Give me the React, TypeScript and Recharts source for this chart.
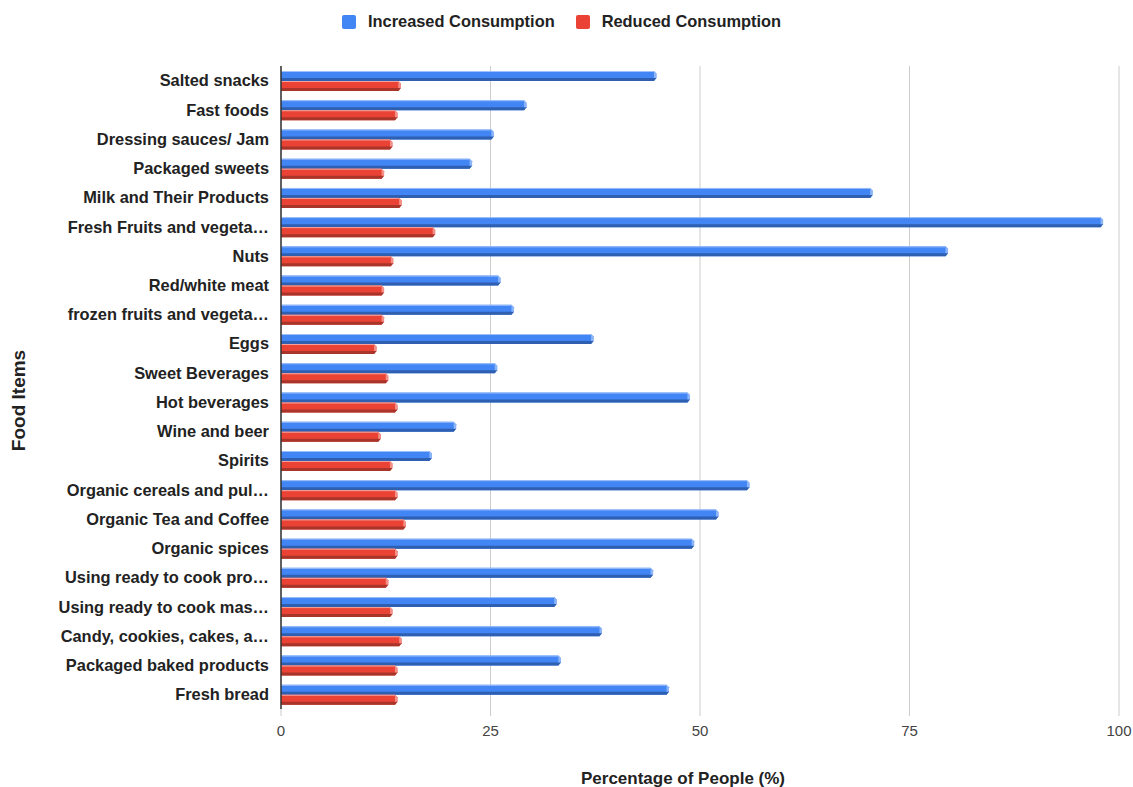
import React from "react";
import { BarChart, Bar, XAxis, YAxis, CartesianGrid, Label, ReferenceLine } from "recharts";

// Food item labels, top to bottom
const categories = [
  "Salted snacks",
  "Fast foods",
  "Dressing sauces/ Jam",
  "Packaged sweets",
  "Milk and Their Products",
  "Fresh Fruits and vegeta…",
  "Nuts",
  "Red/white meat",
  "frozen fruits and vegeta…",
  "Eggs",
  "Sweet Beverages",
  "Hot beverages",
  "Wine and beer",
  "Spirits",
  "Organic cereals and pul…",
  "Organic Tea and Coffee",
  "Organic spices",
  "Using ready to cook pro…",
  "Using ready to cook mas…",
  "Candy, cookies, cakes, a…",
  "Packaged baked products",
  "Fresh bread",
];

// Share of respondents (%) per food item
const increased = [
  44.8, 29.3, 25.4, 22.8, 70.6, 98.1, 79.6, 26.2, 27.8, 37.3, 25.8,
  48.8, 20.9, 18.0, 55.9, 52.2, 49.3, 44.4, 32.9, 38.3, 33.4, 46.3,
];
const reduced = [
  14.3, 13.9, 13.3, 12.3, 14.4, 18.4, 13.4, 12.3, 12.3, 11.4, 12.8,
  13.9, 11.9, 13.3, 13.9, 14.9, 13.9, 12.8, 13.3, 14.4, 13.9, 13.9,
];

const xTicks = [0, 25, 50, 75, 100];

const seriesInfo = [
  { key: "increased", name: "Increased Consumption", color: "#4285F4", dark: "#2f5fb0", light: "#9fc0f9" },
  { key: "reduced", name: "Reduced Consumption", color: "#EA4335", dark: "#a8342a", light: "#f5a59d" },
];

const data = categories.map((name, i) => ({
  name,
  increased: increased[i],
  reduced: reduced[i],
}));

const FONT = "'Liberation Sans', Arial, sans-serif";

// Bar with a bevelled, slightly three-dimensional look
function makeShape(color: string, dark: string, light: string) {
  return (props: any) => {
    const { x, y, width, height } = props;
    if (!width || width <= 0) return null;
    const depth = Math.min(3, height * 0.3);
    const slant = 2.5;
    const right = x + width;
    return (
      <g>
        <polygon
          points={`${x},${y} ${right - slant},${y} ${right},${y + slant} ${right},${y + height - depth} ${right - slant},${y + height} ${x},${y + height}`}
          fill={color}
        />
        <polygon
          points={`${x},${y + height - depth} ${right},${y + height - depth} ${right - slant},${y + height} ${x},${y + height}`}
          fill={dark}
        />
        <polygon
          points={`${right - slant},${y} ${right},${y + slant} ${right},${y + height - depth} ${right - slant},${y + height - depth}`}
          fill={light}
          opacity={0.8}
        />
        <line x1={x} y1={y + 0.5} x2={right - slant} y2={y + 0.5} stroke={light} strokeWidth={1} />
      </g>
    );
  };
}

function ChartLegend() {
  return (
    <div
      style={{
        position: "absolute",
        top: 12,
        left: 0,
        width: 1133,
        display: "flex",
        justifyContent: "center",
        alignItems: "center",
        fontFamily: FONT,
        fontWeight: "bold",
        fontSize: 16.4,
        color: "#222",
        gap: 21,
        paddingRight: 10,
        boxSizing: "border-box",
      }}
    >
      {seriesInfo.map((s) => (
        <div key={s.key} style={{ display: "flex", alignItems: "center" }}>
          <span
            style={{
              display: "inline-block",
              width: 14,
              height: 14,
              background: s.color,
              borderRadius: 2,
              marginRight: 12,
            }}
          />
          <span>{s.name}</span>
        </div>
      ))}
    </div>
  );
}

export default function App() {
  return (
    <div style={{ position: "absolute", left: 0, top: 0, width: 1133, height: 787, background: "#fff" }}>
      <BarChart
        width={1133}
        height={787}
        data={data}
        layout="vertical"
        margin={{ top: 66, right: 14, left: 0, bottom: 0 }}
        barSize={10}
        barGap={0}
      >
        <CartesianGrid horizontal={false} stroke="#cccccc" />
        <XAxis
          type="number"
          domain={[0, 100]}
          ticks={xTicks}
          height={78}
          axisLine={false}
          tickLine={{ stroke: "#cccccc" }}
          tickSize={7}
          tickMargin={9}
          tick={{ fill: "#444", fontSize: 15, fontFamily: FONT }}
        >
          <Label
            value="Percentage of People (%)"
            position="insideBottom"
            offset={3}
            dx={-17}
            style={{ fill: "#222", fontSize: 17, fontWeight: "bold", fontFamily: FONT }}
          />
        </XAxis>
        <YAxis
          type="category"
          dataKey="name"
          width={281}
          axisLine={false}
          tickLine={false}
          tickSize={0}
          tickMargin={12}
          interval={0}
          tick={{ fill: "#222", fontSize: 16.4, fontWeight: "bold", fontFamily: FONT }}
        >
          <Label
            value="Food Items"
            angle={-90}
            position="insideLeft"
            offset={18}
            dy={13}
            style={{ fill: "#222", fontSize: 19, fontWeight: "bold", fontFamily: FONT, textAnchor: "middle" }}
          />
        </YAxis>
        {seriesInfo.map((s) => (
          <Bar
            key={s.key}
            dataKey={s.key}
            name={s.name}
            fill={s.color}
            shape={makeShape(s.color, s.dark, s.light)}
            isAnimationActive={false}
          />
        ))}
        <ReferenceLine x={0} stroke="#333" strokeWidth={1.5} />
      </BarChart>
      <ChartLegend />
    </div>
  );
}
